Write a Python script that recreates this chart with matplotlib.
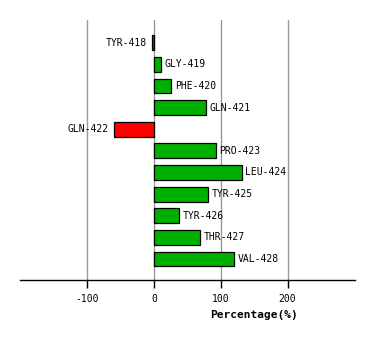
import matplotlib
matplotlib.use("Agg")
import matplotlib.pyplot as plt

residues = ["TYR-418", "GLY-419", "PHE-420", "GLN-421", "GLN-422", "PRO-423",
            "LEU-424", "TYR-425", "TYR-426", "THR-427", "VAL-428"]
values = [-3, 11, 26, 78, -60, 93, 131, 81, 38, 69, 120]

fig = plt.figure(figsize=(3.74, 3.40), dpi=100)
ax = fig.add_axes([20 / 374, 60 / 340, 335 / 374, 260 / 340])

pos = list(range(len(residues)))
colors = ["#00b000" if v >= 0 else "#ff0000" for v in values]
ax.barh(pos, values, height=0.69, color=colors, edgecolor="black",
        linewidth=0.9, zorder=3)

for y, v, name in zip(pos, values, residues):
    if v >= 0:
        ax.text(v + 5, y, name, ha="left", va="center",
                family="DejaVu Sans Mono", fontsize=7, zorder=4)
    else:
        ax.text(v - 8, y, name, ha="right", va="center",
                family="DejaVu Sans Mono", fontsize=7, zorder=4)

ax.set_xlim(-201, 301)
ax.set_ylim(10.97, -1.05)
ax.set_xticks([-100, 0, 100, 200])
ax.set_xticklabels(["-100", "0", "100", "200"], family="DejaVu Sans Mono", fontsize=7)
ax.set_yticks([])
ax.grid(axis="x", color="#999999", linewidth=1, zorder=0)
for s in ["top", "left", "right"]:
    ax.spines[s].set_visible(False)
ax.spines["bottom"].set_linewidth(1)
ax.tick_params(axis="x", length=6, width=1, color="black", pad=4)

ax.set_xlabel("Percentage(%)", family="DejaVu Sans Mono", fontweight="bold", fontsize=8)
ax.xaxis.set_label_coords((254 - 20) / 335, -30 / 260)

fig.savefig("out.png", dpi=100)
